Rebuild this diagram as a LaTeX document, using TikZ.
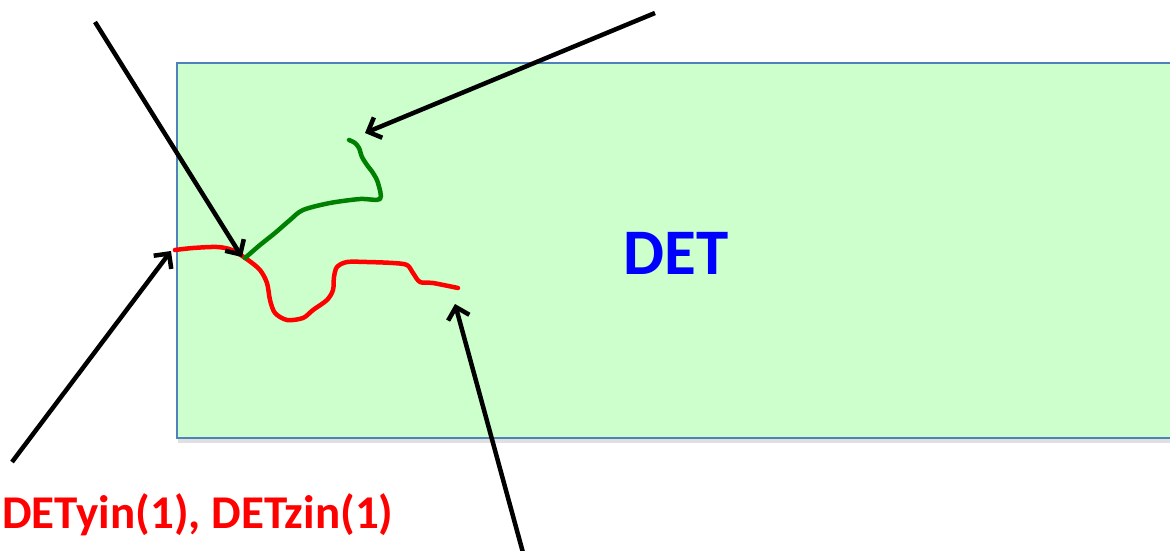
\documentclass[tikz,border=0pt]{standalone}
\usepackage{fontspec}
\setmainfont{Carlito}
\usetikzlibrary{arrows.meta}
\definecolor{boxfill}{HTML}{CCFFCC}
\definecolor{boxline}{HTML}{4F81BD}
\definecolor{dkgreen}{HTML}{008000}
\tikzset{
  ptr/.style={line width=4.5pt, -{Straight Barb[length=11pt,width=22pt,line width=4.5pt]}},
  trace/.style={line width=4.5pt, line cap=round, line join=round},
}
\begin{document}
\begin{tikzpicture}[x=1pt,y=-1pt]
\useasboundingbox (0,0) rectangle (1170,551);
\clip (0,0) rectangle (1170,551);
\fill[white] (0,0) rectangle (1170,551);
% shadow
\fill[black!12] (178,437) rectangle (1200,443);
\node[draw=boxline, line width=2pt, fill=boxfill, minimum width=1100pt, minimum height=375pt, anchor=north west, inner sep=0pt] (det) at (176,62) {};
\node[text=blue, font=\bfseries\fontsize{65}{65}\selectfont] (detlabel) at (676,253) {DET};
% red trace
\draw[trace, red] plot[smooth, tension=0.5] coordinates {(175,250) (193,248) (217,247) (232,250) (248,260) (260,270) (267,283) (270,300) (275,313) (287,320) (303,318) (313,310) (327,300) (333,290) (334,277) (337,267) (347,262) (367,262) (393,263) (407,265) (413,273) (420,282) (433,283) (458,288)};
% green trace
\draw[trace, dkgreen] plot[smooth, tension=0.5] coordinates {(245,258) (260,245) (275,233) (290,220) (303,210) (330,203) (360,199) (380,199) (378,183) (373,173) (367,165) (362,157) (359,148) (355,143) (349,140)};
\coordinate (junction) at (242,257);
\coordinate (greenend) at (365,133);
\coordinate (redstart) at (171,251);
\coordinate (redend) at (455,304);
\coordinate (a1) at (95,22);
\coordinate (a2) at (655,13);
\coordinate (a3) at (12,462);
\coordinate (a4) at (525,560);
\draw[ptr] (a1) -- (junction);
\draw[ptr] (a2) -- (greenend);
\draw[ptr] (a3) -- (redstart);
\draw[ptr] (a4) -- (redend);
\node[text=red, font=\bfseries\fontsize{47}{47}\selectfont, anchor=base west, inner sep=0pt] (lbl) at (2,528) {DETyin(1), DETzin(1)};
\end{tikzpicture}
\end{document}
